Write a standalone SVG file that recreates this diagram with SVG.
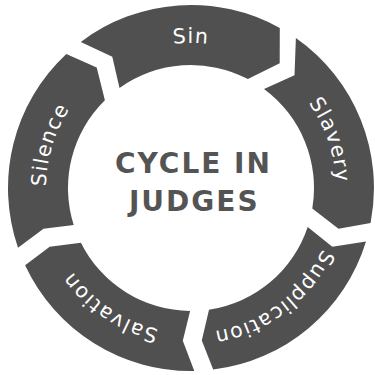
<svg xmlns="http://www.w3.org/2000/svg" xmlns:xlink="http://www.w3.org/1999/xlink" width="375" height="375" viewBox="0 0 375 375">
<style>
.seg{fill:#505050;stroke:none}
.lbl{fill:#ffffff;font-family:"DejaVu Sans","Liberation Sans",sans-serif;font-size:20.5px;letter-spacing:1.3px}
.title{fill:#545454;font-family:"DejaVu Sans","Liberation Sans",sans-serif;font-size:28px;font-weight:bold;letter-spacing:2px;text-anchor:middle}
</style>
<defs>
<path id="pSin" d="M65.4,115.5 A145,145 0 0 1 316.6,115.5"/>
<path id="pSlavery" d="M218.7,45.7 A145,145 0 0 1 300.4,283.1"/>
<path id="pSupp" d="M334.9,170.3 A145,145 0 0 1 134.3,321.5"/>
<path id="pSalv" d="M254.6,318.3 A145,145 0 0 1 46.3,177.9"/>
<path id="pSil" d="M85.0,286.9 A145,145 0 0 1 158.4,46.7"/>
</defs>
<rect width="375" height="375" fill="#ffffff"/>
<g id="sin">
<path class="seg" d="M80.8,41.9 A183,183 0 0 1 279.8,28.0 L279.7,63.3 L247.9,79.0 A123,123 0 0 0 119.5,88.0 L112.3,56.8 Z"/>
<text class="lbl"><textPath href="#pSin" xlink:href="#pSin" startOffset="50%" text-anchor="middle">Sin</textPath></text>
</g>
<g id="slavery">
<path class="seg" d="M295.9,38.1 A183,183 0 0 1 370.6,223.0 L338.5,228.7 L312.3,208.5 A123,123 0 0 0 264.0,89.0 L294.5,75.3 Z"/>
<text class="lbl"><textPath href="#pSlavery" xlink:href="#pSlavery" startOffset="50%" text-anchor="middle">Slavery</textPath></text>
</g>
<g id="supplication">
<path class="seg" d="M366.0,241.4 A183,183 0 0 1 213.2,369.6 L201.8,340.6 L209.0,309.7 A123,123 0 0 0 307.7,226.9 L332.3,246.7 Z"/>
<text class="lbl"><textPath href="#pSupp" xlink:href="#pSupp" startOffset="50%" text-anchor="middle">Supplication</textPath></text>
</g>
<g id="salvation">
<path class="seg" d="M194.3,371.0 A183,183 0 0 1 25.1,265.2 L49.7,246.7 L80.9,242.7 A123,123 0 0 0 190.1,311.0 L182.8,340.8 Z"/>
<text class="lbl"><textPath href="#pSalv" xlink:href="#pSalv" startOffset="50%" text-anchor="middle">Salvation</textPath></text>
</g>
<g id="silence">
<path class="seg" d="M18.0,247.7 A183,183 0 0 1 66.3,54.1 L96.7,67.5 L104.9,100.2 A123,123 0 0 0 73.7,225.1 L43.5,228.7 Z"/>
<text class="lbl"><textPath href="#pSil" xlink:href="#pSil" startOffset="50%" text-anchor="middle">Silence</textPath></text>
</g>
<g id="title">
<text class="title" x="193.5" y="173">CYCLE IN</text>
<text class="title" x="194.3" y="211">JUDGES</text>
</g>
</svg>
